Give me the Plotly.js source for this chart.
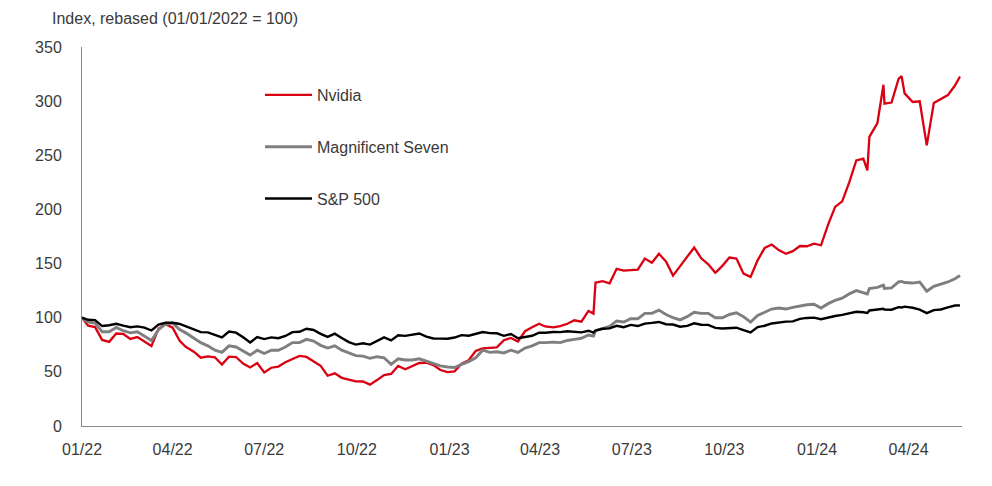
<!DOCTYPE html>
<html>
<head>
<meta charset="utf-8">
<script src="https://cdn.plot.ly/plotly-3.0.1.min.js"></script>
<style>html,body{margin:0;padding:0;background:#fff;}#chart{width:992px;height:486px;}</style>
</head>
<body>
<div id="chart"></div>
<script>
const dates = [
"2022-01-01","2022-01-07","2022-01-14","2022-01-21","2022-01-28","2022-02-04","2022-02-11","2022-02-18","2022-02-25",
"2022-03-04","2022-03-11","2022-03-18","2022-03-25","2022-04-01","2022-04-08","2022-04-14","2022-04-22","2022-04-29",
"2022-05-06","2022-05-13","2022-05-20","2022-05-27","2022-06-03","2022-06-10","2022-06-17","2022-06-24","2022-07-01",
"2022-07-08","2022-07-15","2022-07-22","2022-07-29","2022-08-05","2022-08-12","2022-08-19","2022-08-26","2022-09-02",
"2022-09-09","2022-09-16","2022-09-23","2022-09-30","2022-10-07","2022-10-14","2022-10-21","2022-10-28","2022-11-04",
"2022-11-11","2022-11-18","2022-11-25","2022-12-02","2022-12-09","2022-12-16","2022-12-23","2022-12-30",
"2023-01-06","2023-01-13","2023-01-20","2023-01-27","2023-02-03","2023-02-10","2023-02-17","2023-02-24","2023-03-03",
"2023-03-10","2023-03-17","2023-03-24","2023-03-31","2023-04-06","2023-04-14","2023-04-21","2023-04-28","2023-05-05",
"2023-05-12","2023-05-19","2023-05-24","2023-05-26","2023-06-02","2023-06-09","2023-06-16","2023-06-23","2023-06-30",
"2023-07-07","2023-07-14","2023-07-21","2023-07-28","2023-08-04","2023-08-11","2023-08-18","2023-08-25","2023-09-01",
"2023-09-08","2023-09-15","2023-09-22","2023-09-29","2023-10-06","2023-10-13","2023-10-20","2023-10-27","2023-11-03",
"2023-11-10","2023-11-17","2023-11-24","2023-12-01","2023-12-08","2023-12-15","2023-12-22","2023-12-29",
"2024-01-05","2024-01-12","2024-01-19","2024-01-26","2024-02-02","2024-02-09","2024-02-16","2024-02-20","2024-02-22",
"2024-03-01","2024-03-07","2024-03-08","2024-03-15","2024-03-22","2024-03-25","2024-03-28","2024-04-05","2024-04-12",
"2024-04-19","2024-04-26","2024-05-03","2024-05-10","2024-05-17","2024-05-22"
];

const nvidia = [
100,92.6,91.3,79.5,77.7,85.4,85.0,80.4,82.1,
77.8,73.9,89.9,94.1,90.8,78.6,73.2,68.6,63.1,
64.3,63.5,56.8,64.0,63.7,57.7,54.0,58.2,49.4,
53.8,54.9,58.9,61.7,64.7,63.8,59.4,55.5,46.4,
48.6,44.5,42.7,41.3,41.1,38.2,42.4,47.0,48.1,
55.5,52.4,55.5,58.2,58.4,56.3,51.7,49.7,
50.5,57.5,60.7,69.3,71.7,72.3,72.7,79.2,81.3,
78.1,87.5,91.1,94.5,91.9,91.0,92.2,94.4,97.6,
96.4,106.3,103.8,132.4,133.7,131.8,145.2,143.5,143.8,
144.5,154.6,150.7,159.0,151.9,138.9,147.2,156.5,164.9,
154.9,149.3,141.5,147.9,155.6,154.6,140.7,137.7,153.0,
164.4,167.6,162.5,159.0,161.5,166.2,166.0,168.4,
166.9,186.0,202.3,207.5,225.0,245.3,246.9,236.1,267.0,
279.8,315.1,297.6,298.7,320.6,323.0,307.2,299.2,299.9,
259.1,298.3,301.9,305.6,314.4,322.8
];

const magnificentSeven = [
100,96,95,87,87,91,88,86,87,
83,79,89,94,95,89,86,81,77,
74,70,68,74,73,69,65.5,70,67,
70,70,73,77,77,80,78.5,74.5,72,
74,70,67.5,65,64.5,62.5,64,63,57,
62,61,61,62,60,57.5,55.5,54.5,
54,57,59.5,63,70,68,68.5,67.5,70,
68,72,74,77,77,77.5,77,79,80,
81,84,83,88,90,92,97,96,99,
99,104,104,107,103,100,98,101,105,
104,104,100,100,103,104.5,101,96,102,
105,108,109,108,109.5,111,112,112.5,
109,113,116,118,122,125,123,122,127,
128,130,127,127.5,133,133.5,132.5,132,133,
124.5,129,131,133,136,139
];

const sp500 = [
100,98.1,97.8,92.3,93.0,94.4,92.7,91.2,92.0,
90.8,88.2,93.6,95.3,95.4,94.2,92.2,89.6,86.7,
86.5,84.4,81.9,87.2,86.2,81.9,77.1,82.1,80.3,
81.8,81.1,83.1,86.7,87.0,89.8,88.7,85.1,82.3,
85.3,81.3,77.5,75.2,76.4,75.2,78.7,81.9,79.1,
83.8,83.2,84.5,85.4,82.5,80.8,80.7,80.6,
81.7,83.9,83.4,85.4,86.8,85.8,85.6,83.3,84.9,
81.0,82.2,83.3,86.2,86.1,86.8,86.7,87.5,86.8,
86.5,88.0,86.3,88.2,89.8,90.2,92.5,91.2,93.4,
92.3,94.5,95.2,96.1,94.0,93.7,91.7,92.4,94.8,
93.5,93.4,90.6,90.0,90.4,90.8,88.6,86.4,91.4,
92.6,94.7,95.7,96.4,96.6,99.0,99.8,100.1,
98.6,100.4,101.6,102.6,104.0,105.5,105.0,104.4,106.7,
107.8,108.2,107.5,107.4,109.8,109.5,110.2,109.2,107.5,
104.2,107.0,107.6,109.6,111.3,111.4
];

const seriesNames = ["Nvidia","Magnificent Seven","S&P 500"];
const yTitle = "Index, rebased (01/01/2022 = 100)";

const FONT = "Liberation Sans, Arial, Helvetica, sans-serif";
const TXT = "#3a3a3a";
const AX = "#8c8c8c";

const traces = [
  {x: dates, y: nvidia, name: seriesNames[0], legendgroup: "a", type: "scatter", mode: "lines",
   line: {color: "#DB0011", width: 2.3}},
  {x: dates, y: magnificentSeven, name: seriesNames[1], legendgroup: "b", type: "scatter", mode: "lines",
   line: {color: "#7f7f7f", width: 2.9}},
  {x: dates, y: sp500, name: seriesNames[2], legendgroup: "c", type: "scatter", mode: "lines",
   line: {color: "#000000", width: 2.4}}
];

const layout = {
  width: 992, height: 486,
  margin: {l: 82, r: 30, t: 47, b: 60},
  paper_bgcolor: "#ffffff", plot_bgcolor: "#ffffff",
  font: {family: FONT, size: 16, color: TXT},
  title: {text: yTitle, x: 52/992, xref: "container", xanchor: "left",
          y: 1 - 18/486, yref: "container", yanchor: "middle",
          font: {family: FONT, size: 16, color: TXT}},
  xaxis: {type: "date", range: ["2022-01-01", "2024-05-24"],
          tick0: "2022-01-01", dtick: "M3", tickformat: "%m/%y",
          showgrid: false, zeroline: false, showline: true, linecolor: AX, linewidth: 1,
          ticks: "", ticklabelstandoff: 9, tickfont: {family: FONT, size: 16, color: TXT}},
  yaxis: {range: [0, 350], dtick: 50, tick0: 0,
          showgrid: false, zeroline: false, showline: true, linecolor: AX, linewidth: 1,
          ticks: "", ticklabelstandoff: 16, tickfont: {family: FONT, size: 16, color: TXT}},
  showlegend: true,
  legend: {x: (260-82)/880, xanchor: "left", y: (426-78)/379, yanchor: "top",
           bgcolor: "rgba(0,0,0,0)", borderwidth: 0, itemwidth: 47,
           tracegroupgap: 28, traceorder: "grouped",
           font: {family: FONT, size: 16, color: TXT}}
};

Plotly.newPlot("chart", traces, layout, {displayModeBar: false, staticPlot: true});
</script>
</body>
</html>
